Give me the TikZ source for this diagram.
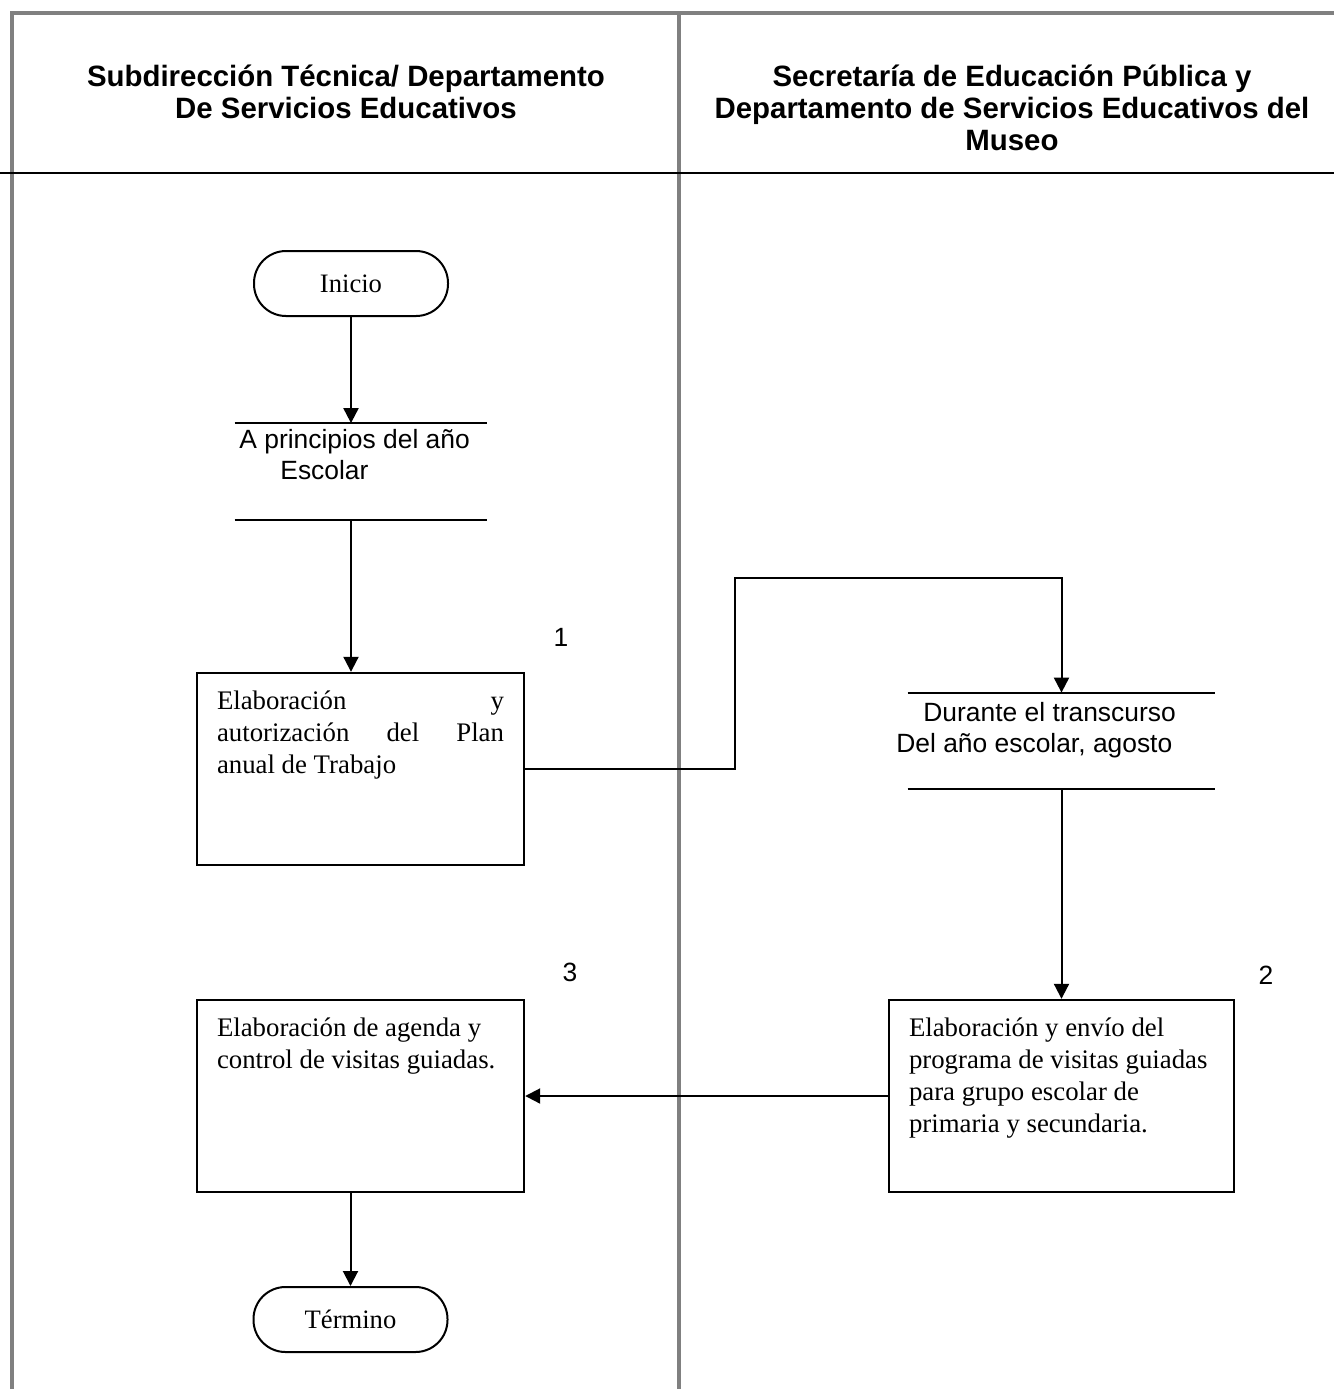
\documentclass[tikz,border=0pt]{standalone}
\usepackage{fontspec}
\setmainfont{Liberation Serif}
\setsansfont{Liberation Sans}
\usetikzlibrary{arrows.meta,calc}
\definecolor{ink}{HTML}{000000}
\definecolor{lane}{HTML}{808080}
\tikzset{
  carril/.style={draw=lane, line width=1.6pt},
  linea/.style={draw=ink, line width=1pt},
  flecha/.style={-{Triangle[length=7.5pt,width=7.5pt]}, line width=1pt, draw=ink},
  terminal/.style={draw=ink, line width=1pt, rounded corners=16pt, minimum width=97pt, minimum height=32.5pt, font=\rmfamily\fontsize{13.3}{16}\selectfont},
  proceso/.style={draw=ink, line width=1.2pt, inner xsep=10pt, inner ysep=9pt, font=\rmfamily\fontsize{13.4}{16}\selectfont},
  periodo/.style={inner sep=0pt, minimum width=#1, minimum height=48pt},
  fecha/.style={inner sep=0pt, align=left, font=\sffamily\fontsize{13.2}{15.5}\selectfont},
  numero/.style={inner sep=0pt, font=\sffamily\fontsize{13.2}{15.5}\selectfont},
  titulo/.style={inner sep=0pt, align=center, font=\sffamily\bfseries\fontsize{14.7}{16}\selectfont}
}
\newcommand{\caja}[2]{\parbox[t][78pt][t]{#1}{#2}}

\begin{document}
\begin{tikzpicture}[x=0.5pt, y=-0.5pt, text=ink]
  \useasboundingbox (0,0) rectangle (1334,1389);
  % carriles
  \draw[carril] (12,1389) -- (12,13) -- (1334,13);
  \draw[carril] (679,13) -- (679,1389);
  \draw[linea] (0,173) -- (1334,173);
  \node[titulo, anchor=north] (tit1) at (346,65) {Subdirección Técnica/ Departamento\\De Servicios Educativos};
  \node[titulo, anchor=north] (tit2) at (1012,65) {Secretaría de Educación Pública y\\Departamento de Servicios Educativos del\\Museo};

  \node[terminal] (inicio) at (351,283.5) {Inicio};
  \node[periodo=126pt] (per1) at (361,471.5) {};
  \draw[linea] (per1.north west) -- (per1.north east) (per1.south west) -- (per1.south east);
  \node[fecha, anchor=north west] (per1t) at (239,429) {A principios del año\\\hspace*{20.5pt}Escolar};

  \node[proceso] (plan) at (360.5,769) {\caja{143.5pt}{\makebox[\linewidth][s]{Elaboración y}\\\makebox[\linewidth][s]{autorización del Plan}\\anual de Trabajo}};
  \node[numero] (n1) at (561,637) {1};

  \node[periodo=153.5pt] (per2) at (1061.5,741) {};
  \draw[linea] (per2.north west) -- (per2.north east) (per2.south west) -- (per2.south east);
  \node[fecha, anchor=north west] (per2t) at (896,702) {\hspace*{13.5pt}Durante el transcurso\\Del año escolar, agosto};

  \node[proceso] (progr) at (1061.5,1096) {\caja{152.5pt}{Elaboración y envío del\\programa de visitas guiadas\\para grupo escolar de\\primaria y secundaria.}};
  \node[numero] (n2) at (1266,975) {2};

  \node[proceso] (agenda) at (360.5,1096) {\caja{143.5pt}{Elaboración de agenda y\\control de visitas guiadas.}};
  \node[numero] (n3) at (570,972) {3};

  \node[terminal] (termino) at (350.5,1319.5) {Término};

  % conectores
  \draw[flecha] (inicio) -- (inicio |- per1.north);
  \draw[flecha] (inicio |- per1.south) -- (inicio |- plan.north);
  \coordinate (codo) at (735,578);
  \draw[flecha] (plan.east) -| (codo) -| (per2.north);
  \draw[flecha] (per2.south) -- (progr.north);
  \draw[flecha] (progr.west) -- (agenda.east);
  \draw[flecha] (termino |- agenda.south) -- (termino.north);
\end{tikzpicture}
\end{document}
